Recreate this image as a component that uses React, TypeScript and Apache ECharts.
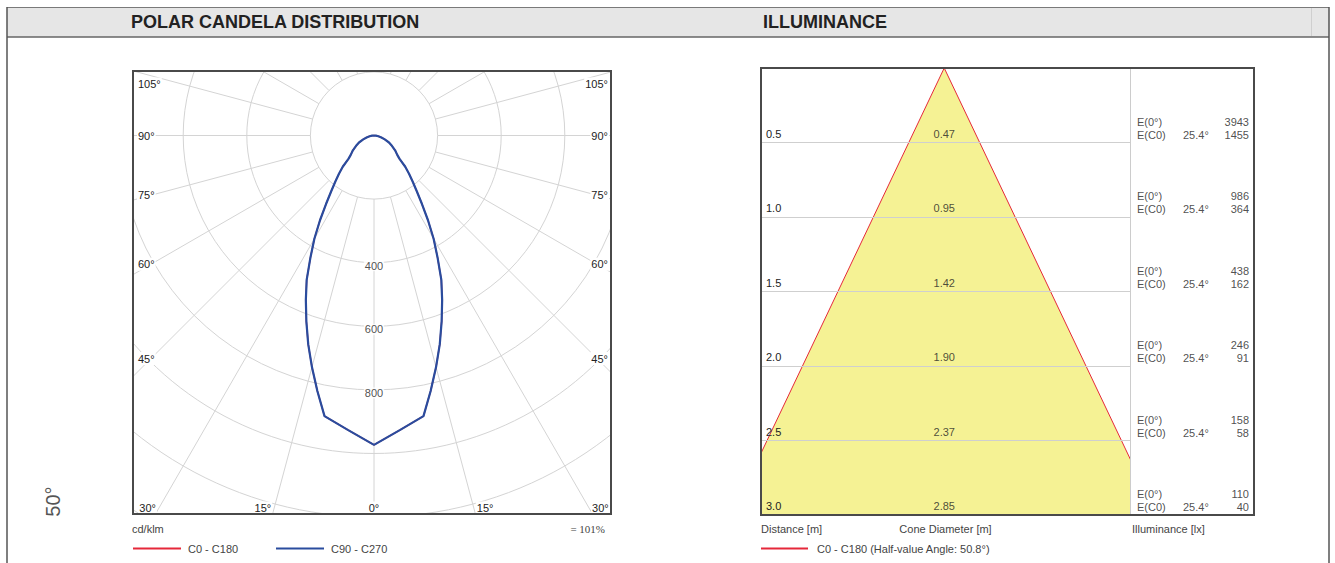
import React, { useEffect, useRef } from "react";
import * as echarts from "echarts";

const FONT = '"Liberation Sans", Arial, Helvetica, sans-serif';
const SERIF = '"Liberation Serif", "Times New Roman", serif';

// ---------- Polar candela distribution (cd/klm) ----------
const gammaAngles = [0, 5, 10, 12.5, 15, 17.5, 20, 22.5, 25, 27.5, 30, 32.5, 35, 37.5, 40, 42.5, 45, 47.5, 50, 55, 60, 65, 70, 75, 80, 85, 90];
const intensityC0C180 = [973, 930, 896, 823, 754, 688, 622, 560, 501, 433, 375, 316, 263, 221, 189, 163, 139, 109, 96, 81, 65, 52, 36, 24, 14, 6, 0];
const intensityC90C270 = [973, 930, 896, 823, 754, 688, 622, 560, 501, 433, 375, 316, 263, 221, 189, 163, 139, 109, 96, 81, 65, 52, 36, 24, 14, 6, 0];
const ringTickLabels = [400, 600, 800];
const sideAngleLabels = [105, 90, 75, 60, 45];
const bottomAngleTicks = [-30, -15, 0, 15, 30];
const polarLegendNames = ["C0 - C180", "C90 - C270"];
const polarUnit = "cd/klm";
const polarEfficiency = "= 101%";
const beamAngleText = "50°";

// ---------- Illuminance ----------
const distances = [0.5, 1.0, 1.5, 2.0, 2.5, 3.0];
const coneDiameters = [0.47, 0.95, 1.42, 1.9, 2.37, 2.85];
const illumCenter = [3943, 986, 438, 246, 158, 110];
const illumC0 = [1455, 364, 162, 91, 58, 40];
const halfAngleC0 = 25.4;
const halfValueAngle = 50.8;

const RED = "#e5283a";
const BLUE = "#2a4c9e";
const YELLOW = "#f5f294";
const GRID = "#d4d4d4";
const TEXT = "#222222";
const SUB = "#444444";
const FRAME = "#4a4a4a";

const plainLabel = { color: TEXT, fontSize: 11, fontFamily: FONT, textBorderWidth: 0, textBorderColor: "transparent", textShadowBlur: 0 };

type TxtOpts = { color?: string; size?: number; weight?: string; family?: string; align?: string; z?: number; bg?: boolean; rotation?: number };
const txt = (text: string, x: number, y: number, o: TxtOpts = {}) => ({
  type: "text",
  x,
  y,
  z: o.z ?? 10,
  rotation: o.rotation ?? 0,
  silent: true,
  style: {
    text,
    fill: o.color ?? TEXT,
    font: `${o.weight ?? "normal"} ${o.size ?? 11}px ${o.family ?? FONT}`,
    align: o.align ?? "left",
    verticalAlign: "middle",
    ...(o.bg ? { backgroundColor: "#ffffff", padding: [1, 1] } : {}),
  },
});
const ln = (x1: number, y1: number, x2: number, y2: number, stroke: string, lineWidth = 1, z = 10) => ({
  type: "line",
  z,
  silent: true,
  shape: { x1, y1, x2, y2 },
  style: { stroke, lineWidth },
});

function buildCurve(vals: number[]) {
  const left = gammaAngles.map((g, i) => [vals[i], g]).reverse();
  const right = gammaAngles.slice(1).map((g, i) => [vals[i + 1], 360 - g]);
  return [...left, ...right];
}

// ---------- polar chart (clipped to its box) ----------
const PW = 480, PH = 445;
const CX = 242, CY = 65.5;
const PX_PER_CD = 0.318;
const R_MAX = 1400;

function polarOption() {
  const outerR = R_MAX * PX_PER_CD;
  const innerR = 200 * PX_PER_CD;
  const labelEls: any[] = [];
  sideAngleLabels.forEach((a) => {
    const y = Math.max(14, CY + (CX - 19) / Math.tan((a * Math.PI) / 180));
    labelEls.push(txt(`${a}°`, 5, y, { bg: true }));
    labelEls.push(txt(`${a}°`, 477, y, { bg: true, align: "right" }));
  });
  const by = 438;
  bottomAngleTicks.forEach((t) => {
    const lx = CX + (by - CY) * Math.tan((t * Math.PI) / 180);
    if (t === 0) labelEls.push(txt(`0°`, CX, by, { bg: true, align: "center" }));
    else if (t < 0) labelEls.push(txt(`${Math.abs(t)}°`, lx - 2, by, { bg: true, align: "right" }));
    else labelEls.push(txt(`${t}°`, lx + 2, by, { bg: true, align: "left" }));
  });

  return {
    animation: false,
    polar: [
      { center: [CX, CY], radius: [innerR, outerR] },
      { center: [CX, CY], radius: [0, outerR] },
    ],
    angleAxis: [
      {
        polarIndex: 0, type: "value", min: 0, max: 360, interval: 15, startAngle: 270, clockwise: true,
        axisLine: { show: false }, axisTick: { show: false }, axisLabel: { show: false },
        splitLine: { show: true, lineStyle: { color: GRID, width: 1 } },
      },
      { polarIndex: 1, type: "value", min: 0, max: 360, startAngle: 270, clockwise: true, show: false },
    ],
    radiusAxis: [
      {
        polarIndex: 0, type: "value", min: 200, max: R_MAX, interval: 200,
        axisLine: { show: false }, axisTick: { show: false }, axisLabel: { show: false },
        splitLine: { show: true, lineStyle: { color: GRID, width: 1 } },
      },
      { polarIndex: 1, type: "value", min: 0, max: R_MAX, show: false },
    ],
    series: [
      {
        name: polarLegendNames[0], type: "line", coordinateSystem: "polar", polarIndex: 1,
        data: buildCurve(intensityC0C180), symbol: "none", silent: true,
        lineStyle: { color: RED, width: 1.4 },
      },
      {
        name: polarLegendNames[1], type: "line", coordinateSystem: "polar", polarIndex: 1,
        data: buildCurve(intensityC90C270), symbol: "none", silent: true,
        lineStyle: { color: BLUE, width: 2.2 },
      },
      {
        type: "scatter", coordinateSystem: "polar", polarIndex: 1, silent: true,
        data: ringTickLabels.map((v) => [v, 0]), symbolSize: 0, z: 5,
        itemStyle: { color: TEXT },
        label: {
          show: true, position: "inside", offset: [0, 3], ...plainLabel,
          backgroundColor: "#ffffff", padding: [0, 1],
          formatter: (p: any) => String(p.value[0]),
        },
      },
    ],
    graphic: {
      elements: [
        { type: "rect", z: 20, silent: true, shape: { x: 1, y: 1, width: PW - 2, height: PH - 2 }, style: { fill: "none", stroke: FRAME, lineWidth: 2 } },
        ...labelEls,
      ],
    },
  };
}

// ---------- page chart: frame, illuminance, legends ----------
const IL = 761, IT = 68, IW = 369, IH = 447, COLW = 124;

function pageOption() {
  const half = coneDiameters[coneDiameters.length - 1] / 2;
  const dMax = distances[distances.length - 1];
  const conePoints = [[-half, dMax], [0, 0], [half, dMax]];
  return {
    animation: false,
    grid: [
      { left: IL, top: IT, width: IW, height: IH, outerBoundsMode: "none" },
      { left: IL + IW, top: IT, width: COLW, height: IH, outerBoundsMode: "none" },
    ],
    xAxis: [
      { gridIndex: 0, type: "value", min: -1.228, max: 1.245, show: false },
      { gridIndex: 1, type: "value", min: 0, max: 1, show: false },
    ],
    yAxis: [
      {
        gridIndex: 0, type: "value", inverse: true, min: 0, max: dMax, interval: 0.5, z: 5,
        axisLine: { show: false }, axisTick: { show: false },
        splitLine: { show: true, lineStyle: { color: "#cfcfcf", width: 1 } },
        axisLabel: {
          inside: true, margin: 5, verticalAlign: "bottom", lineHeight: 12, padding: [0, 0, 3, 0],
          color: TEXT, fontSize: 11, fontFamily: FONT,
          formatter: (v: number) => (v === 0 ? "" : v.toFixed(1)),
        },
      },
      { gridIndex: 1, type: "value", inverse: true, min: 0, max: dMax, show: false },
    ],
    series: [
      {
        type: "line", xAxisIndex: 0, yAxisIndex: 0, data: conePoints, symbol: "none", silent: true, z: 2,
        lineStyle: { color: RED, width: 1 },
        areaStyle: { color: YELLOW, opacity: 1, origin: "end" },
      },
      {
        type: "scatter", xAxisIndex: 0, yAxisIndex: 0, silent: true, clip: false, z: 6,
        data: distances.map((d) => [0, d]), symbolSize: 0, itemStyle: { color: TEXT },
        label: {
          show: true, position: "top", distance: 3, ...plainLabel, lineHeight: 12,
          formatter: (p: any) => coneDiameters[p.dataIndex].toFixed(2),
        },
      },
      {
        type: "scatter", xAxisIndex: 1, yAxisIndex: 1, silent: true, clip: false, z: 6,
        data: distances.map((d) => [0, d]), symbolSize: 0, itemStyle: { color: TEXT },
        label: {
          show: true, position: [7, -1.5], align: "left", verticalAlign: "bottom", lineHeight: 13,
          ...plainLabel,
          formatter: () => "E(0°)\nE(C0)",
        },
      },
      {
        type: "scatter", xAxisIndex: 1, yAxisIndex: 1, silent: true, clip: false, z: 6,
        data: distances.map((d) => [0, d]), symbolSize: 0, itemStyle: { color: TEXT },
        label: {
          show: true, position: [53, -1.5], align: "left", verticalAlign: "bottom", lineHeight: 13,
          ...plainLabel,
          formatter: () => `${halfAngleC0}°`,
        },
      },
      {
        type: "scatter", xAxisIndex: 1, yAxisIndex: 1, silent: true, clip: false, z: 6,
        data: distances.map((d) => [1, d]), symbolSize: 0, itemStyle: { color: TEXT },
        label: {
          show: true, position: [-5, -1.5], align: "right", verticalAlign: "bottom", lineHeight: 13,
          ...plainLabel,
          formatter: (p: any) => `${illumCenter[p.dataIndex]}\n${illumC0[p.dataIndex]}`,
        },
      },
    ],
    graphic: {
      elements: [
        // header band and page frame
        { type: "rect", z: 1, silent: true, shape: { x: 7, y: 7, width: 1322, height: 30 }, style: { fill: "#e6e6e6" } },
        ln(7, 7.5, 1329, 7.5, "#7a7a7a", 1),
        ln(7, 37, 1329, 37, "#666666", 1.5),
        ln(7, 7, 7, 563, "#555555", 1.5),
        ln(1329, 7, 1329, 563, "#555555", 1.5),
        ln(1311.5, 8, 1311.5, 36, "#cfcfcf", 1),
        txt("POLAR CANDELA DISTRIBUTION", 131, 22, { size: 18, weight: "bold", color: TEXT }),
        txt("ILLUMINANCE", 763, 22, { size: 18, weight: "bold", color: TEXT }),
        // beam angle
        txt(beamAngleText, 53, 501.5, { size: 20, color: "#555555", align: "center", rotation: Math.PI / 2 }),
        // polar footer
        txt(polarUnit, 132, 528.5, { color: SUB }),
        txt(polarEfficiency, 605, 528.5, { color: SUB, family: SERIF, align: "right" }),
        ln(133, 548.5, 181, 548.5, RED, 2),
        txt(polarLegendNames[0], 188, 548.5, { color: SUB }),
        ln(276, 548.5, 324, 548.5, BLUE, 2),
        txt(polarLegendNames[1], 331, 548.5, { color: SUB }),
        // illuminance frame
        ln(IL + IW + 0.5, IT, IL + IW + 0.5, IT + IH, "#cccccc", 1, 20),
        { type: "rect", z: 21, silent: true, shape: { x: IL, y: IT, width: IW + COLW, height: IH }, style: { fill: "none", stroke: FRAME, lineWidth: 2 } },
        // illuminance footer
        txt("Distance [m]", 761, 528.5, { color: SUB }),
        txt("Cone Diameter [m]", 945.5, 528.5, { color: SUB, align: "center" }),
        txt("Illuminance [lx]", 1132, 528.5, { color: SUB }),
        ln(761, 548.5, 808, 548.5, RED, 2),
        txt(`${polarLegendNames[0]} (Half-value Angle: ${halfValueAngle}°)`, 817, 548.5, { color: SUB }),
      ],
    },
  };
}

export default function App() {
  const pageRef = useRef<HTMLDivElement>(null);
  const polarRef = useRef<HTMLDivElement>(null);

  useEffect(() => {
    const page = echarts.init(pageRef.current as HTMLDivElement, null, { renderer: "svg" });
    page.setOption(pageOption() as any);
    const polar = echarts.init(polarRef.current as HTMLDivElement, null, { renderer: "svg" });
    polar.setOption(polarOption() as any);
    return () => {
      page.dispose();
      polar.dispose();
    };
  }, []);

  return (
    <div style={{ position: "absolute", left: 0, top: 0, width: 1335, height: 563, background: "#ffffff", overflow: "hidden" }}>
      <div ref={pageRef} style={{ position: "absolute", left: 0, top: 0, width: 1335, height: 563 }} />
      <div ref={polarRef} style={{ position: "absolute", left: 132, top: 70, width: PW, height: PH, overflow: "hidden", background: "#ffffff" }} />
    </div>
  );
}
